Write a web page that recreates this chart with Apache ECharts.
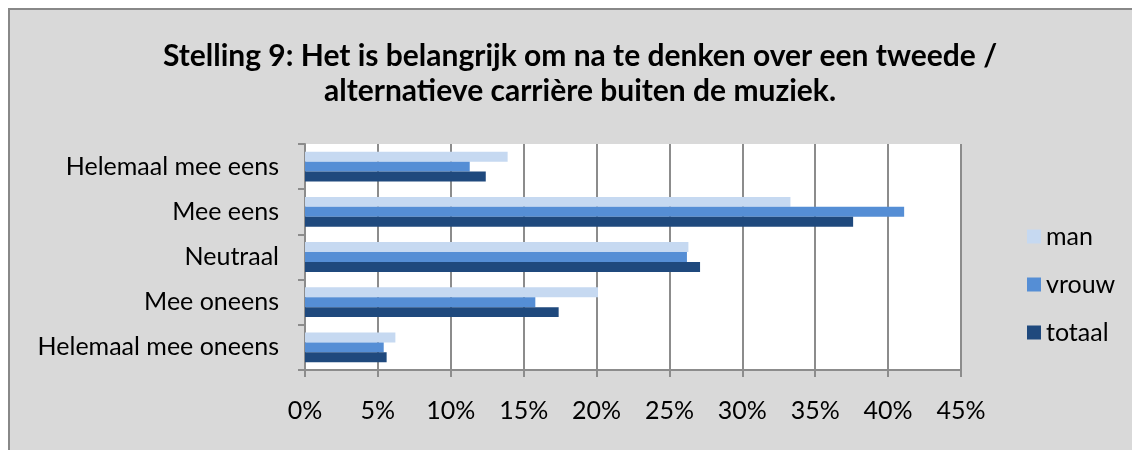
<!DOCTYPE html>
<html>
<head>
<meta charset="utf-8">
<script src="https://cdn.jsdelivr.net/npm/echarts@6/dist/echarts.min.js"></script>
<style>
  html, body { margin: 0; padding: 0; background: #fff; }
  #frame {
    position: absolute; left: 8px; top: 8px; width: 1124px; height: 442px;
    background: #d9d9d9; border-left: 2px solid #888; border-top: 2px solid #888;
    box-sizing: border-box;
  }
  #chart { position: absolute; left: 0; top: 0; width: 1132px; height: 450px; }
</style>
</head>
<body>
<div id="frame"></div>
<div id="chart"></div>
<script>
// categorieën en waarden (percentages)
const categories = ['Helemaal mee eens', 'Mee eens', 'Neutraal', 'Mee oneens', 'Helemaal mee oneens']
const man = [13.9, 33.3, 26.3, 20.1, 6.2]
const vrouw = [11.3, 41.1, 26.2, 15.8, 5.4]
const totaal = [12.4, 37.6, 27.1, 17.4, 5.6]
const seriesNames = ['man', 'vrouw', 'totaal']
const colors = ['#c6d9f1', '#558ed5', '#1f497d']

const font = 'Lato, sans-serif'
const chart = echarts.init(document.getElementById('chart'))

const option = {
  backgroundColor: 'transparent',
  animation: false,
  title: {
    text: 'Stelling 9: Het is belangrijk om na te denken over een tweede /\nalternatieve carrière buiten de muziek.',
    left: 575,
    top: 34,
    textAlign: 'center',
    textStyle: {
      fontFamily: font,
      fontSize: 30,
      fontWeight: 'bold',
      color: '#000',
      lineHeight: 35
    }
  },
  legend: {
    data: seriesNames,
    orient: 'vertical',
    left: 1022,
    top: 219,
    itemWidth: 14,
    itemHeight: 14,
    itemGap: 23,
    icon: 'rect',
    textStyle: { fontFamily: font, fontSize: 25, color: '#000' }
  },
  grid: {
    left: 305,
    right: 171,
    top: 144,
    bottom: 80,
    containLabel: false,
    show: true,
    backgroundColor: '#fff',
    borderWidth: 0
  },
  xAxis: {
    type: 'value',
    min: 0,
    max: 45,
    interval: 5,
    axisLine: { show: true, lineStyle: { color: '#8c8c8c', width: 2 } },
    axisTick: { show: true, length: 7, lineStyle: { color: '#8c8c8c', width: 2 } },
    splitLine: { show: true, lineStyle: { color: '#8c8c8c', width: 2 } },
    axisLabel: {
      formatter: '{value}%',
      margin: 28,
      fontFamily: font,
      fontSize: 25,
      color: '#000'
    }
  },
  yAxis: {
    type: 'category',
    inverse: true,
    data: categories,
    axisLine: { show: true, lineStyle: { color: '#8c8c8c', width: 2 } },
    axisTick: { show: true, length: 7, lineStyle: { color: '#8c8c8c', width: 2 } },
    axisLabel: {
      margin: 26,
      fontFamily: font,
      fontSize: 25,
      color: '#000'
    }
  },
  series: [man, vrouw, totaal].map((d, i) => ({
    name: seriesNames[i],
    type: 'bar',
    data: d,
    barGap: '0%',
    barCategoryGap: '34%',
    itemStyle: { color: colors[i] }
  }))
}

chart.setOption(option)
</script>
</body>
</html>
